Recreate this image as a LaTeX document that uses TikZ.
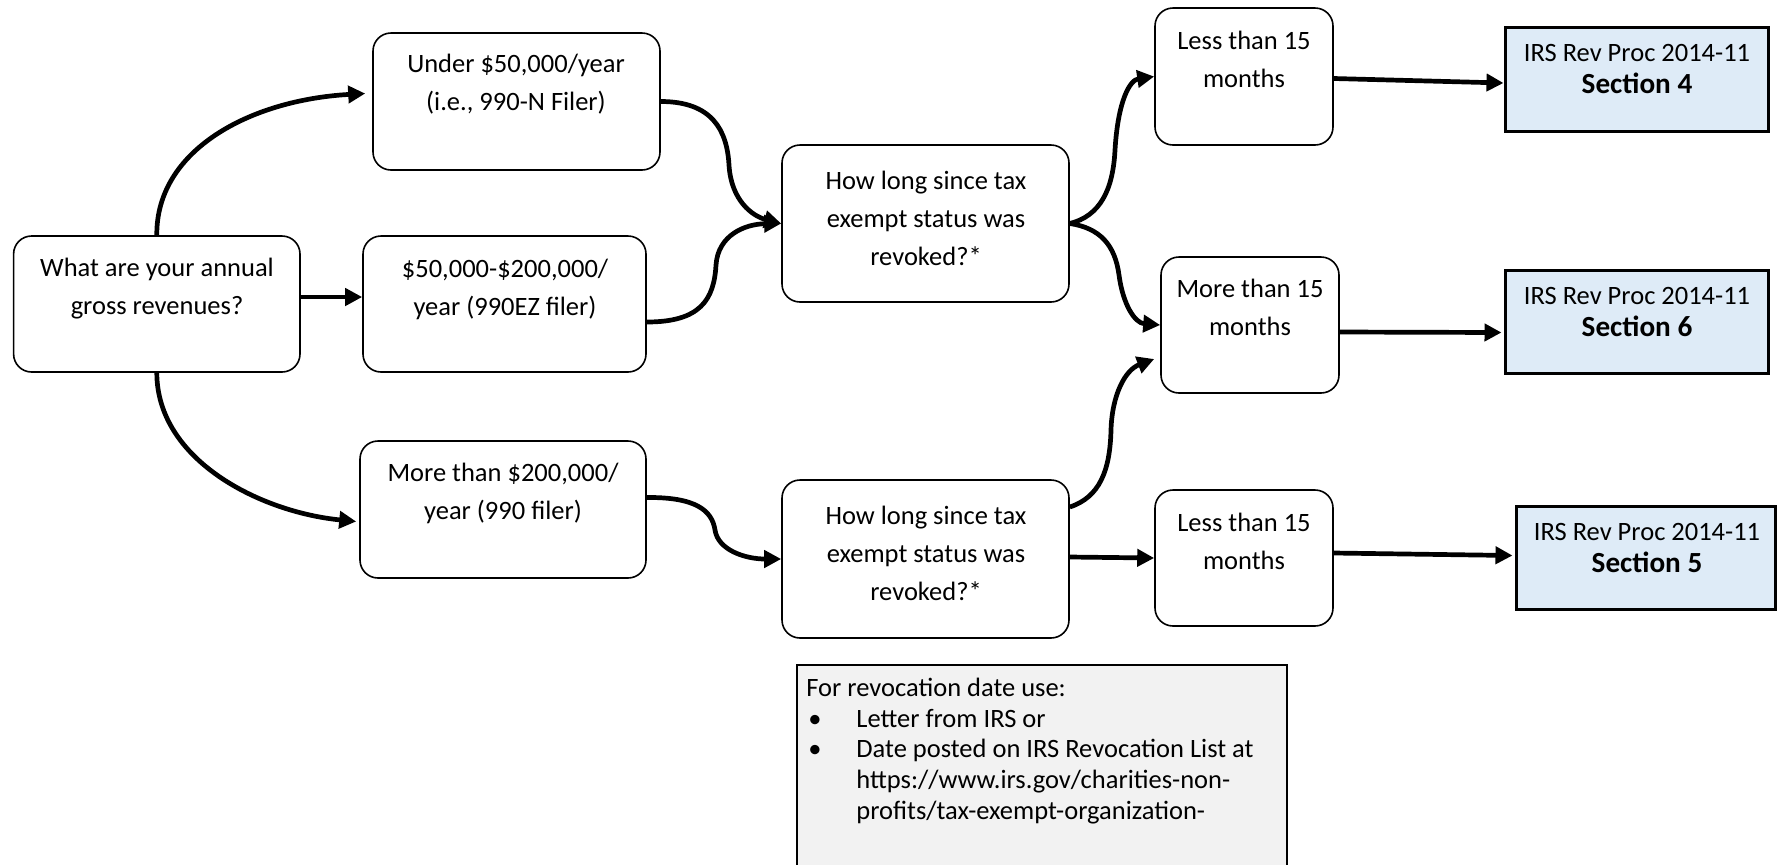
\documentclass[tikz,border=0pt]{standalone}
\usepackage{fontspec}
\setmainfont{Carlito}
\usetikzlibrary{arrows.meta,calc,fit}
\definecolor{irsblue}{HTML}{DEEBF7}
\definecolor{notegray}{HTML}{F2F2F2}
\newcommand{\secfont}{\bfseries\fontsize{14.6pt}{16pt}\selectfont}
\begin{document}
\begin{tikzpicture}[x=0.5pt,y=-0.5pt,
  box/.style={draw=black, line width=0.8pt, rounded corners=9pt, inner sep=0pt, fill=white},
  irs/.style={draw=black, line width=1.5pt, fill=irsblue, inner sep=0pt},
  notebox/.style={draw=black, line width=1.2pt, fill=notegray, inner sep=0pt},
  txt/.style={align=center, inner sep=0pt, font=\fontsize{13.25pt}{19pt}\selectfont},
  irstxt/.style={align=center, inner sep=0pt, font=\fontsize{13.25pt}{16pt}\selectfont},
  notetxt/.style={align=left, inner sep=0pt, anchor=west, font=\fontsize{13.25pt}{15.3pt}\selectfont},
  arr/.style={line width=2.35pt, -{Triangle[length=8.5pt,width=8.5pt]}},
]
\useasboundingbox (0,0) rectangle (1777,864);
\clip (0,0) rectangle (1777,864);

% boxes
\node[box, fit={(13.6,236) (300,372)}] (q) {};
\node[box, fit={(373,33) (660,170)}] (u) {};
\node[box, fit={(363,236) (646,372)}] (m) {};
\node[box, fit={(360,441) (646,578)}] (b) {};
\node[box, fit={(782,145) (1069,302)}] (h1) {};
\node[box, fit={(782,480) (1069,638)}] (h2) {};
\node[box, fit={(1155,8) (1333,145)}] (l1) {};
\node[box, fit={(1161,257) (1339,393)}] (m15) {};
\node[box, fit={(1155,490) (1333,626)}] (l2) {};
\node[irs, fit={(1505,27) (1768,131)}] (s4) {};
\node[irs, fit={(1505,270) (1768,373)}] (s6) {};
\node[irs, fit={(1516,506) (1775,609)}] (s5) {};
\node[notebox, fit={(797,665) (1287,900)}] (note) {};

% texts
\node[txt] (qt) at (157,289) {What are your annual\\gross revenues?};
\node[txt] (ut) at (516,84) {Under \$50,000/year\\(i.e., 990-N Filer)};
\node[txt] (mt) at (505,289) {\$50,000-\$200,000/\\year (990EZ filer)};
\node[txt] (bt) at (503,493) {More than \$200,000/\\year (990 filer)};
\node[txt] (h1t) at (926,218) {How long since tax\\exempt status was\\revoked?*};
\node[txt] (h2t) at (926,553) {How long since tax\\exempt status was\\revoked?*};
\node[txt] (l1t) at (1244,59) {Less than 15\\months};
\node[txt] (m15t) at (1250,307) {More than 15\\months};
\node[txt] (l2t) at (1244,541) {Less than 15\\months};
\node[irstxt] (s4t) at (1637,69) {IRS Rev Proc 2014-11\\{\secfont Section 4}};
\node[irstxt] (s6t) at (1637,312) {IRS Rev Proc 2014-11\\{\secfont Section 6}};
\node[irstxt] (s5t) at (1647,548) {IRS Rev Proc 2014-11\\{\secfont Section 5}};
\node[notetxt] (nt) at (806,751) {For revocation date use:\\
\makebox[25pt][l]{\hspace{1pt}\textbullet}Letter from IRS or\\
\makebox[25pt][l]{\hspace{1pt}\textbullet}Date posted on IRS Revocation List at\\
\hspace*{25pt}https://www.irs.gov/charities-non-\\
\hspace*{25pt}profits/tax-exempt-organization-};

% connectors
\draw[arr] (q.north) .. controls (156,150) and (250,100) .. ($(u.west)+(-7,-8)$);
\draw[arr] ($(q.east)+(0,-7)$) -- ($(m.west)+(0,-7)$);
\draw[arr] (q.south) .. controls (157,460) and (260,512) .. ($(b.west)+(-3,12)$);
\draw[arr] (u.east) .. controls (712,101.5) and (727,130) .. (729,165)
   .. controls (731,200) and (752,216) .. (h1.west);
\draw[arr] ($(m.east)+(0,18)$) .. controls (700,322) and (714,300) .. (716,265)
   .. controls (718,235) and (745,224) .. (h1.west);
\draw[arr] (h1.east) .. controls (1100,216) and (1113,190) .. (1115,150)
   .. controls (1118,100) and (1130,80) .. (l1.west);
\draw[arr] (h1.east) .. controls (1100,228) and (1115,245) .. (1119,275)
   .. controls (1123,305) and (1135,323) .. (m15.west);
\draw[arr] ($(h2.east)+(0,-52)$) .. controls (1100,497) and (1110,470) .. (1111,430)
   .. controls (1112,395) and (1125,370) .. ($(m15.west)+(-6,34)$);
\draw[arr] ($(b.east)+(0,-12)$) .. controls (695,497) and (712,510) .. (715,530)
   .. controls (718,550) and (745,559) .. (h2.west);
\draw[arr] ($(h2.east)+(0,-2)$) -- (l2.west);
\draw[arr] ($(l1.east)+(0,2)$) -- ($(s4.west)+(0,4)$);
\draw[arr] ($(m15.east)+(0,7)$) -- ($(s6.west)+(-2,11)$);
\draw[arr] ($(l2.east)+(0,-5)$) -- ($(s5.west)+(-2,-2)$);
\end{tikzpicture}
\end{document}
